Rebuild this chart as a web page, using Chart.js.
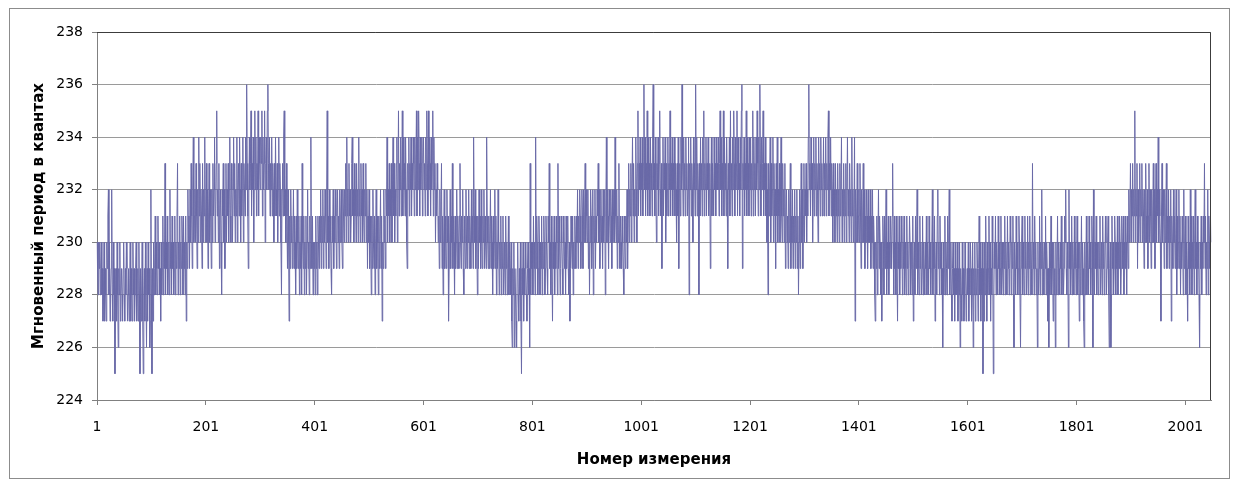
<!DOCTYPE html>
<html>
<head>
<meta charset="utf-8">
<script src="https://cdn.jsdelivr.net/npm/chart.js@4.4.1/dist/chart.umd.min.js"></script>
<style>
    html, body { margin: 0; padding: 0; background: #fff; }
    #wrap { position: relative; width: 1239px; height: 483px; }
    #frame { position: absolute; left: 9px; top: 8px; width: 1219px; height: 469px; border: 1px solid #8c8c8c; }
    #chart { position: absolute; left: 0; top: 0; }
</style>
</head>
<body>
<div id="wrap">
    <div id="frame"></div>
    <canvas id="chart" width="1239" height="483"></canvas>
</div>
<script>
// Подписи осей
const xTitle = 'Номер измерения';
const yTitle = 'Мгновенный период в квантах';
const xTickLabels = ['1', '201', '401', '601', '801', '1001', '1201', '1401', '1601', '1801', '2001'];
const yTicks = [224, 226, 228, 230, 232, 234, 236, 238];

const period0001 = [
    230,229,228,230,229,230,228,229,230,228,229,227,228,230,227,229,228,227,230,229,
    231,232,228,230,227,228,229,232,228,227,230,228,229,225,228,229,227,230,228,226,
    229,228,230,227,228,229,228,227,229,230,228,227,229,228,230,229,227,228,229,227,
    228,230,227,229,228,227,230,228,229,227,228,229,230,227,228,229,227,230,228,225,
    229,227,228,230,227,225,228,229,227,230,228,226,229,227,230,228,229,226,227,232,
    228,225,229,227,230,228,229,231,228,230,229,228,231,229,230,228,229,227,230,228,
    229,231,228,230,229,233,228,230,229,231,228,229,230,228,232,229,230,228,231,229,
    230,228,229,231,228,230,229,231,233,228,230,229,231,228,230,229,231,230,228,231,
    229,230,228,231,227,230,229,232,230,231,229,232,230,233,231,229,232,234,230,231,
    232,230,233,231,229,232,230,234,231,233,230,232,231,229,233,230,232,231,234,230
];
const period0201 = [
    231,233,230,232,229,231,233,230,232,231,229,232,230,233,231,232,234,230,231,233,
    235,231,232,230,233,229,231,232,230,228,232,231,233,230,232,229,231,233,230,232,
    231,233,230,232,234,231,230,233,232,230,232,234,231,233,230,232,231,234,230,232,
    233,231,234,232,230,233,231,232,234,230,233,232,231,234,232,236,233,231,229,232,
    234,232,233,235,231,233,232,234,230,233,235,232,234,231,233,232,235,231,234,233,
    232,234,233,235,231,234,232,233,235,230,233,234,232,235,236,233,232,234,231,233,
    232,234,231,233,232,230,233,231,234,232,231,233,230,232,234,231,233,232,230,228,
    232,233,231,234,235,231,232,230,233,231,229,232,230,227,231,229,232,230,231,229,
    230,232,229,231,230,228,231,229,232,230,229,231,228,230,229,231,228,233,230,229,
    231,228,230,229,231,228,230,232,229,230,228,231,229,234,230,229,231,228,230,229
];
const period0401 = [
    230,228,231,229,230,228,231,230,229,231,230,232,229,231,230,232,229,231,230,232,
    231,229,232,235,230,231,229,232,230,231,229,228,231,230,232,229,231,230,232,231,
    229,231,232,230,231,229,232,230,231,232,230,229,232,231,230,232,231,233,230,234,
    231,232,230,233,231,232,230,231,233,234,231,232,230,233,231,232,230,233,231,232,
    230,234,231,232,230,233,231,232,230,233,231,230,232,231,233,230,232,229,231,230,
    232,229,231,230,228,231,229,232,230,229,231,228,230,232,229,231,230,228,231,229,
    230,232,229,231,227,230,229,232,230,231,229,232,231,234,230,232,231,233,230,232,
    231,233,230,232,234,231,233,230,232,231,233,234,230,232,235,231,233,232,234,231,
    232,235,231,234,232,233,231,234,232,230,229,233,232,234,231,233,232,234,231,233,
    232,234,233,231,234,232,233,235,231,234,232,235,233,231,234,232,233,234,231,233
];
const period0601 = [
    234,232,233,231,234,232,235,233,231,235,232,234,233,231,234,232,233,235,231,234,
    232,233,230,232,231,233,232,230,231,229,232,230,231,233,229,231,228,230,232,229,
    231,230,229,232,230,231,227,229,230,232,229,231,230,233,229,231,230,228,231,229,
    230,232,229,231,230,229,231,233,230,229,231,230,232,229,228,231,230,229,232,230,
    229,231,230,232,229,231,230,229,232,230,231,229,234,231,230,232,229,231,230,228,
    231,229,232,230,231,229,232,230,229,231,230,232,229,231,230,229,234,231,230,229,
    231,229,230,232,229,231,230,228,231,229,230,232,229,231,228,230,229,232,230,228,
    230,229,231,228,230,229,231,228,229,230,228,231,229,230,228,229,231,228,230,229,
    228,230,227,226,229,228,230,226,229,228,227,226,229,230,228,227,229,228,230,227,
    225,229,228,230,227,229,228,230,229,228,227,229,230,228,229,226,233,228,230,229
];
const period0801 = [
    230,228,231,229,230,228,234,229,231,230,228,229,231,230,228,230,229,231,228,230,
    229,231,230,228,229,231,230,229,228,231,230,233,229,230,228,231,229,227,230,229,
    231,228,230,229,231,230,228,233,229,231,230,228,229,231,230,229,228,231,230,229,
    230,228,231,229,230,231,229,228,230,227,229,231,230,229,231,228,230,229,231,230,
    229,231,230,232,229,231,230,232,231,229,230,232,231,229,232,230,231,233,230,232,
    231,230,232,229,231,228,230,232,231,229,230,232,228,231,230,232,229,231,230,232,
    231,233,230,232,229,231,232,230,231,229,232,230,231,232,228,231,234,230,232,231,
    229,232,231,230,232,231,229,232,230,231,232,230,234,231,230,232,229,231,230,233,
    230,229,231,230,229,231,230,229,228,231,230,229,231,230,232,229,231,233,230,232,
    231,233,230,232,234,231,233,230,232,231,234,232,230,233,235,231,233,232,234,231
];
const period1001 = [
    233,232,234,231,233,236,232,234,231,233,232,235,231,234,232,233,231,234,232,233,
    231,234,236,232,233,231,234,232,230,233,232,234,231,233,235,232,231,233,229,232,
    234,231,233,232,234,230,233,231,232,234,231,233,232,235,231,233,232,234,231,233,
    232,234,231,233,232,230,233,231,234,229,232,233,231,234,232,236,233,231,234,232,
    233,231,234,232,233,231,232,234,228,233,232,234,231,233,232,230,234,232,233,231,
    236,232,234,231,233,232,228,233,231,234,232,233,231,234,232,235,231,233,232,234,
    231,233,232,234,231,232,233,229,232,234,231,233,232,231,234,232,233,231,234,232,
    233,232,234,231,233,235,232,234,231,233,232,235,231,234,232,233,231,234,232,229,
    233,232,234,231,235,232,233,231,234,232,235,233,231,234,232,233,235,231,234,232,
    233,231,234,232,235,236,229,233,232,234,231,233,232,235,231,234,232,233,231,234
];
const period1201 = [
    232,234,231,233,232,235,231,234,232,233,231,234,232,235,233,231,234,232,236,233,
    231,234,232,233,235,231,233,232,234,231,233,230,232,228,233,231,232,234,230,233,
    231,232,234,230,233,231,232,229,233,231,234,230,232,231,233,230,232,234,231,230,
    233,231,232,230,233,229,231,232,230,231,229,232,230,231,233,229,231,230,232,229,
    231,230,232,229,231,230,232,229,231,228,230,232,229,231,233,230,232,229,231,233,
    230,232,231,233,230,232,231,234,236,232,233,231,234,232,233,230,232,234,231,233,
    232,234,231,233,232,230,234,232,233,231,234,232,233,231,232,234,231,233,232,234,
    231,233,232,234,235,231,233,232,234,231,233,232,230,233,231,232,230,233,231,232,
    230,233,231,232,230,233,231,232,234,230,232,231,233,230,232,231,233,230,232,234,
    231,232,230,233,231,232,230,234,231,232,230,231,234,227,232,230,231,233,230,231
];
const period1401 = [
    232,230,233,231,229,232,230,231,233,230,232,229,231,230,232,231,229,232,230,231,
    230,232,229,231,230,232,229,231,230,228,227,230,229,231,228,230,232,229,231,230,
    228,230,227,229,231,230,228,231,229,230,232,228,230,229,231,228,230,229,231,230,
    229,231,233,230,228,231,229,230,228,231,229,227,230,229,231,228,230,229,231,230,
    228,230,229,231,228,230,229,228,231,229,230,228,229,231,230,228,229,230,228,231,
    227,229,230,228,231,229,230,232,228,230,229,228,231,229,230,228,229,231,228,230,
    229,228,230,229,231,228,230,229,228,231,229,230,228,229,230,232,228,230,229,231,
    227,229,230,228,231,232,229,230,228,231,229,230,228,229,226,230,228,229,231,228,
    230,229,228,231,229,230,232,228,229,230,228,227,229,230,228,229,227,230,228,229,
    228,230,227,229,228,230,226,229,228,227,230,228,229,227,228,230,229,227,228,229
];
const period1601 = [
    228,230,227,229,228,230,229,227,228,230,226,229,228,230,227,229,228,230,229,227,
    229,231,228,230,227,229,228,230,225,229,227,230,228,231,229,227,230,228,229,231,
    228,230,227,229,228,231,229,225,228,230,229,231,228,230,229,228,231,229,230,228,
    229,231,228,230,229,228,230,229,231,228,230,229,228,231,229,230,228,229,231,230,
    228,230,229,231,228,226,230,229,228,231,229,230,228,229,231,230,228,226,229,230,
    231,228,230,229,228,231,229,230,228,229,231,228,230,229,231,228,230,229,228,233,
    229,230,228,231,229,230,228,229,226,230,228,229,231,228,230,229,232,228,230,229,
    228,230,229,231,228,230,229,227,229,226,230,228,229,231,228,230,229,227,230,228,
    229,226,230,228,229,231,228,230,229,228,230,229,231,228,229,230,228,229,231,230,
    232,229,228,230,229,226,232,229,230,228,229,231,228,230,229,228,231,229,230,228
];
const period1801 = [
    229,231,228,230,229,227,230,228,229,231,228,230,229,227,226,230,228,229,231,228,
    230,229,228,231,229,230,228,229,231,230,226,232,229,228,230,229,231,228,230,229,
    228,230,229,231,228,229,230,228,231,229,230,228,229,231,230,228,229,230,231,228,
    226,229,230,226,228,231,229,230,228,229,231,230,228,230,229,231,228,230,229,231,
    230,228,229,231,230,229,231,228,230,229,231,230,228,231,230,229,232,230,231,233,
    230,232,231,233,230,232,231,235,230,232,231,233,229,232,230,231,233,230,232,231,
    233,230,232,231,229,232,230,233,231,230,232,229,231,233,230,232,231,229,232,230,
    231,233,230,232,229,231,233,230,232,231,234,230,232,231,230,227,231,233,230,232,
    231,229,232,230,231,233,229,231,230,232,229,231,230,232,227,231,230,229,232,230,
    231,229,230,232,228,231,229,230,232,229,231,228,230,229,231,230,228,232,229,230
];
const period2001 = [
    231,228,230,229,227,231,229,230,228,232,229,231,228,230,229,231,228,230,232,229,
    230,228,231,229,230,228,226,230,229,231,228,230,229,231,230,233,229,231,228,230,
    229,232,228,231,230,229,231,230
];

const periodValues = [].concat(period0001, period0201, period0401, period0601, period0801,
    period1001, period1201, period1401, period1601, period1801, period2001);
const measurementNumbers = periodValues.map((v, i) => String(i + 1));

// Рамка области построения
const plotFrame = {
    id: 'plotFrame',
    afterDraw(chart) {
        const { ctx, chartArea: a } = chart;
        ctx.save();
        ctx.strokeStyle = '#3c3c3c';
        ctx.lineWidth = 1;
        ctx.beginPath();
        ctx.moveTo(a.left, a.top + 0.5);
        ctx.lineTo(a.right - 0.5, a.top + 0.5);
        ctx.lineTo(a.right - 0.5, a.bottom);
        ctx.stroke();
        ctx.restore();
    }
};

const fontFamily = '"DejaVu Sans", "Liberation Sans", sans-serif';

new Chart(document.getElementById('chart'), {
    type: 'line',
    data: {
        labels: measurementNumbers,
        datasets: [{
            data: periodValues,
            borderColor: '#6a6aa8',
            borderWidth: 1,
            pointRadius: 0,
            tension: 0,
            fill: false
        }]
    },
    options: {
        responsive: false,
        animation: false,
        events: [],
        layout: { padding: { left: 30, top: 32, right: 28, bottom: 14 } },
        plugins: { legend: { display: false }, tooltip: { enabled: false } },
        scales: {
            x: {
                type: 'category',
                offset: false,
                afterBuildTicks: axis => {
                    axis.ticks = axis.ticks.filter(t => xTickLabels.includes(String(t.value + 1)));
                },
                afterFit: axis => { axis.height = 69; },
                ticks: {
                    autoSkip: false,
                    maxRotation: 0,
                    padding: 14,
                    color: '#000',
                    font: { family: fontFamily, size: 14 },
                    callback: function(value) { return this.getLabelForValue(value); }
                },
                grid: { display: true, drawOnChartArea: false, tickLength: 5, color: '#808080' },
                border: { display: true, color: '#808080' },
                title: {
                    display: true,
                    text: xTitle,
                    color: '#000',
                    font: { family: fontFamily, size: 15, weight: 'bold' },
                    padding: 0
                }
            },
            y: {
                min: 224,
                max: 238,
                afterBuildTicks: axis => { axis.ticks = yTicks.map(v => ({ value: v })); },
                afterFit: axis => { axis.width = 67; },
                ticks: {
                    padding: 9,
                    color: '#000',
                    font: { family: fontFamily, size: 14 }
                },
                grid: { color: '#9a9a9a', tickLength: 5, tickColor: '#808080' },
                border: { display: true, color: '#808080' },
                title: {
                    display: true,
                    text: yTitle,
                    color: '#000',
                    font: { family: fontFamily, size: 15, weight: 'bold' },
                    padding: 0
                }
            }
        }
    },
    plugins: [plotFrame]
});
</script>
</body>
</html>
